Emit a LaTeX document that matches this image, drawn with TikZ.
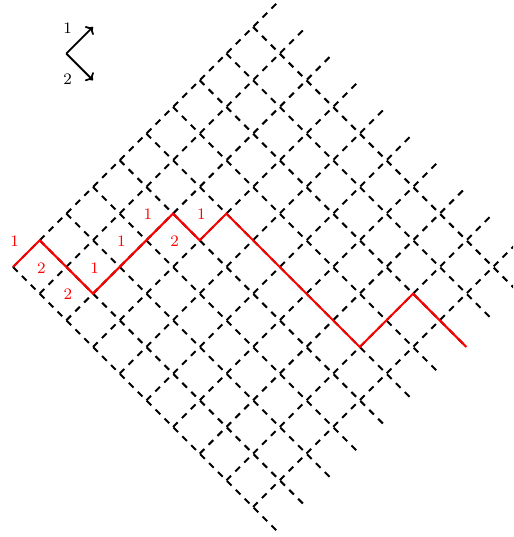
\documentclass[tikz,border=0pt]{standalone}
\usetikzlibrary{arrows.meta}

\begin{document}
\begin{tikzpicture}[x=13.33pt,y=13.33pt,font=\footnotesize,
  gridln/.style={line width=1pt,dash pattern=on 3.3pt off 3pt},
  walk/.style={line width=1pt,red},
  lab/.style={text=red,inner sep=1pt},
  leg/.style={-{To[length=3pt,width=6pt]},line width=0.9pt},
  leglab/.style={inner sep=1pt}]
\useasboundingbox (-0.4875,-10.125) rectangle (18.75,10.01);
\clip (-0.4875,-10.125) rectangle (18.75,10.01);
% rotated lattice
\foreach \k in {0,...,9} {
  \draw[gridln] (\k,-\k) -- ++(10,10);
  \draw[gridln] (\k,\k) -- ++(10,-10);
}
% legend
\coordinate (o) at (2,8);
\coordinate (o1) at (3,9);
\coordinate (o2) at (3,7);
\draw[leg] (o) -- (o1);
\draw[leg] (o) -- (o2);
\node[leglab] (n1) at (2.05,8.97) {1};
\node[leglab] (n2) at (2.05,7.05) {2};
% the walk
\foreach \n/\p in {0/{0,0},1/{1,1},2/{3,-1},3/{6,2},4/{7,1},5/{8,2},6/{13,-3},7/{15,-1},8/{17,-3}}
  \coordinate (p\n) at (\p);
\draw[walk] (p0) -- (p1) -- (p2) -- (p3) -- (p4) -- (p5) -- (p6) -- (p7) -- (p8);
\foreach \x/\y/\t in {0/1/1,1/0/2,2/-1/2,3/0/1,4/1/1,5/2/1,6/1/2,7/2/1}
  \node[lab] (s\x) at (\x+0.06,\y-0.03) {\t};
\end{tikzpicture}
\end{document}
